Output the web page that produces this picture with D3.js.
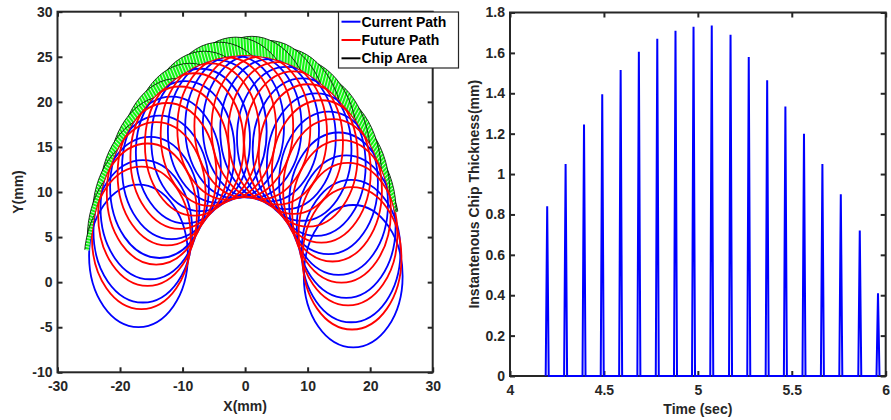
<!DOCTYPE html>
<html>
<head>
<meta charset="utf-8">
<script src="https://cdn.jsdelivr.net/npm/d3@7"></script>
<style>
  body { margin: 0; background: #fff; }
  svg text { font-family: "Liberation Sans", Arial, sans-serif; font-weight: bold; fill: #262626; }
</style>
</head>
<body>
<svg width="891" height="420"></svg>
<script>
// ---- left plot: tool path loops (centre x, centre y in mm) ----
const currentCenters = [
  [-17.05, 2.92], [-16.35, 5.64], [-15.22, 8.22], [-13.69, 10.58], [-11.78, 12.67],
  [-9.57, 14.41], [-7.11, 15.77], [-4.45, 16.72], [-1.68, 17.22], [1.13, 17.26],
  [3.92, 16.85], [6.60, 15.99], [9.11, 14.71], [11.38, 13.03], [13.34, 11.01],
  [14.95, 8.70], [16.17, 6.16], [16.95, 3.45], [17.29, 0.66]
];
const futureCenters = [
  [-16.59, 4.91], [-15.60, 7.48], [-14.22, 9.85], [-12.49, 11.97], [-10.44, 13.80],
  [-8.12, 15.27], [-5.60, 16.37], [-2.94, 17.05], [-0.21, 17.30], [2.53, 17.11],
  [5.20, 16.50], [7.75, 15.47], [10.09, 14.05], [12.19, 12.28], [13.98, 10.19],
  [15.41, 7.85], [16.46, 5.32], [17.10, 2.65]
];
const loopRadius = 7.9;

// chip area: one scallop per tooth pass, depth beyond the loop envelope (mm)
const chipCenters = [
  [-17.13, 2.41], [-16.58, 4.93], [-15.67, 7.34], [-14.40, 9.59], [-12.82, 11.62],
  [-10.95, 13.39], [-8.83, 14.88], [-6.52, 16.02], [-4.07, 16.82], [-1.52, 17.23],
  [1.06, 17.27], [3.61, 16.92], [6.09, 16.19], [8.43, 15.11], [10.58, 13.69],
  [12.50, 11.96], [14.14, 9.97], [15.46, 7.76], [16.44, 5.37]
];
const chipDepth = [0.7, 0.75, 0.85, 0.95, 1.1, 1.3, 1.5, 1.7, 1.9, 2.05,
  2.1, 2.0, 1.9, 1.75, 1.6, 1.4, 1.1, 0.8, 0.5];
const chipStart = [-25, 3.5];
const chipEnd = [24.3, 7.8];

// ---- right plot: instantaneous chip thickness ----
const spikeTime = [4.198, 4.296, 4.394, 4.491, 4.589, 4.686, 4.784, 4.881, 4.977, 5.074,
  5.174, 5.271, 5.369, 5.466, 5.565, 5.663, 5.761, 5.862, 5.959];
const spikeHeight = [0.84, 1.05, 1.245, 1.395, 1.515, 1.605, 1.67, 1.71, 1.73, 1.735,
  1.69, 1.58, 1.465, 1.335, 1.20, 1.05, 0.90, 0.72, 0.41];
const spikeWidth = 0.016;

const xTicksL = [-30, -20, -10, 0, 10, 20, 30];
const yTicksL = [-10, -5, 0, 5, 10, 15, 20, 25, 30];
const xTicksR = [4, 4.5, 5, 5.5, 6];
const yTicksR = [0, 0.2, 0.4, 0.6, 0.8, 1, 1.2, 1.4, 1.6, 1.8];

const legendItems = [
  { label: "Current Path", color: "#0000ff" },
  { label: "Future Path", color: "#ff0000" },
  { label: "Chip Area", color: "#000000" }
];

const svg = d3.select("svg");
const axisColor = "#262626";
const defs = svg.append("defs");

function drawAxes(g, x, y, xt, yt, w, h) {
  const styleAxis = (a) => {
    a.select(".domain").remove();
    a.selectAll(".tick line").attr("stroke", axisColor).attr("stroke-width", 2);
    a.selectAll(".tick text").attr("fill", axisColor)
      .style("font-size", "14px").style("font-weight", "bold")
      .style("font-family", '"Liberation Sans", Arial, sans-serif');
  };
  const fmt = (d) => String(d);
  g.append("g").attr("transform", `translate(0,${h})`)
    .call(d3.axisBottom(x).tickValues(xt).tickFormat(fmt).tickSizeInner(-5).tickSizeOuter(0).tickPadding(9))
    .call(styleAxis);
  g.append("g")
    .call(d3.axisTop(x).tickValues(xt).tickSizeInner(-5).tickSizeOuter(0).tickFormat(""))
    .call(styleAxis);
  g.append("g")
    .call(d3.axisLeft(y).tickValues(yt).tickFormat(fmt).tickSizeInner(-5).tickSizeOuter(0).tickPadding(5))
    .call(styleAxis);
  g.append("g").attr("transform", `translate(${w},0)`)
    .call(d3.axisRight(y).tickValues(yt).tickSizeInner(-5).tickSizeOuter(0).tickFormat(""))
    .call(styleAxis);
  g.append("rect").attr("width", w).attr("height", h)
    .attr("fill", "none").attr("stroke", axisColor).attr("stroke-width", 2);
}

// ================= left plot =================
const L = { left: 57.5, top: 11.7, width: 375.2, height: 360.6 };
const gL = svg.append("g").attr("transform", `translate(${L.left},${L.top})`);
const xL = d3.scaleLinear().domain([-30, 30]).range([0, L.width]);
const yL = d3.scaleLinear().domain([-10, 30]).range([L.height, 0]);
const rx = (r) => xL(r) - xL(0);
const ry = (r) => yL(0) - yL(r);

gL.append("g").selectAll("ellipse").data(currentCenters).join("ellipse")
  .attr("cx", (d) => xL(d[0])).attr("cy", (d) => yL(d[1]))
  .attr("rx", rx(loopRadius)).attr("ry", ry(loopRadius))
  .attr("fill", "none").attr("stroke", "#0000ff").attr("stroke-width", 1.8);

gL.append("g").selectAll("ellipse").data(futureCenters).join("ellipse")
  .attr("cx", (d) => xL(d[0])).attr("cy", (d) => yL(d[1]))
  .attr("rx", rx(loopRadius)).attr("ry", ry(loopRadius))
  .attr("fill", "none").attr("stroke", "#ff0000").attr("stroke-width", 1.8);

// mask: outside the loops, outside the path circle, inside the swept wedge
const pathRadius = d3.mean(chipCenters, (c) => Math.hypot(c[0], c[1]));
const mask = defs.append("mask").attr("id", "chipMask")
  .attr("maskUnits", "userSpaceOnUse")
  .attr("x", -L.left).attr("y", -L.top).attr("width", 891).attr("height", 420);
const wedge = [[0, 0], [chipStart[0] * 4, chipStart[1] * 4], [-100, 100], [100, 100],
  [chipEnd[0] * 4, chipEnd[1] * 4]];
mask.append("path")
  .attr("d", d3.line().x((d) => xL(d[0])).y((d) => yL(d[1]))(wedge) + "Z")
  .attr("fill", "#fff");
mask.append("ellipse").attr("cx", xL(0)).attr("cy", yL(0))
  .attr("rx", rx(pathRadius)).attr("ry", ry(pathRadius)).attr("fill", "#000");
mask.selectAll(".loop").data(currentCenters.concat(futureCenters)).join("ellipse")
  .attr("class", "loop")
  .attr("cx", (d) => xL(d[0])).attr("cy", (d) => yL(d[1]))
  .attr("rx", rx(loopRadius)).attr("ry", ry(loopRadius)).attr("fill", "#000");

// one hatch per chip, stripes across the band
chipCenters.forEach((c, i) => {
  const ang = Math.atan2(yL(c[1]) - yL(0), xL(c[0]) - xL(0)) * 180 / Math.PI;
  const p = defs.append("pattern").attr("id", `hatch${i}`)
    .attr("patternUnits", "userSpaceOnUse").attr("width", 3).attr("height", 3)
    .attr("patternTransform", `rotate(${ang - 90})`);
  p.append("rect").attr("width", 3).attr("height", 3).attr("fill", "#10f510");
  p.append("rect").attr("x", 2).attr("width", 1).attr("height", 3).attr("fill", "#d6fbd6");
});

const chips = chipCenters.map((c, i) => ({ c, i, r: loopRadius + chipDepth[i] }));
gL.append("g").attr("mask", "url(#chipMask)")
  .selectAll("ellipse").data(chips.slice().reverse()).join("ellipse")
  .attr("cx", (d) => xL(d.c[0])).attr("cy", (d) => yL(d.c[1]))
  .attr("rx", (d) => rx(d.r)).attr("ry", (d) => ry(d.r))
  .attr("fill", (d) => `url(#hatch${d.i})`)
  .attr("stroke", "#000").attr("stroke-width", 0.8);

drawAxes(gL, xL, yL, xTicksL, yTicksL, L.width, L.height);

gL.append("text").attr("x", L.width / 2).attr("y", 411 - L.top)
  .attr("text-anchor", "middle").style("font-size", "14px").text("X(mm)");
gL.append("text")
  .attr("transform", `translate(${23 - L.left},${L.height / 2}) rotate(-90)`)
  .attr("text-anchor", "middle").style("font-size", "14px").text("Y(mm)");

// legend
const lg = svg.append("g").attr("transform", "translate(338.5,12)");
lg.append("rect").attr("width", 120).attr("height", 56)
  .attr("fill", "#fff").attr("stroke", axisColor).attr("stroke-width", 1.2);
const rows = lg.selectAll("g").data(legendItems).join("g")
  .attr("transform", (d, i) => `translate(0,${9.7 + i * 18.3})`);
rows.append("line").attr("x1", 3).attr("x2", 22)
  .attr("stroke", (d) => d.color).attr("stroke-width", 2);
rows.append("text").attr("x", 23).attr("y", 5).style("font-size", "14px")
  .style("fill", "#000").text((d) => d.label);

// ================= right plot =================
const R = { left: 510, top: 12.5, width: 375.7, height: 363.5 };
const gR = svg.append("g").attr("transform", `translate(${R.left},${R.top})`);
const xR = d3.scaleLinear().domain([4, 6]).range([0, R.width]);
const yR = d3.scaleLinear().domain([0, 1.8]).range([R.height, 0]);

drawAxes(gR, xR, yR, xTicksR, yTicksR, R.width, R.height);

const spikePts = spikeTime.flatMap((t, i) => [
  [t - spikeWidth / 2, 0], [t, spikeHeight[i]], [t + spikeWidth / 2, 0]
]);
gR.append("path").datum(spikePts)
  .attr("d", d3.line().x((d) => xR(d[0])).y((d) => yR(d[1])))
  .attr("fill", "none").attr("stroke", "#0000ff").attr("stroke-width", 2)
  .attr("stroke-linejoin", "miter");

gR.append("text").attr("x", R.width / 2).attr("y", 414 - R.top)
  .attr("text-anchor", "middle").style("font-size", "14px").text("Time (sec)");
gR.append("text")
  .attr("transform", `translate(${479 - R.left},${R.height / 2}) rotate(-90)`)
  .attr("text-anchor", "middle").style("font-size", "14px")
  .text("Instantenous Chip Thickness(mm)");
</script>
</body>
</html>
